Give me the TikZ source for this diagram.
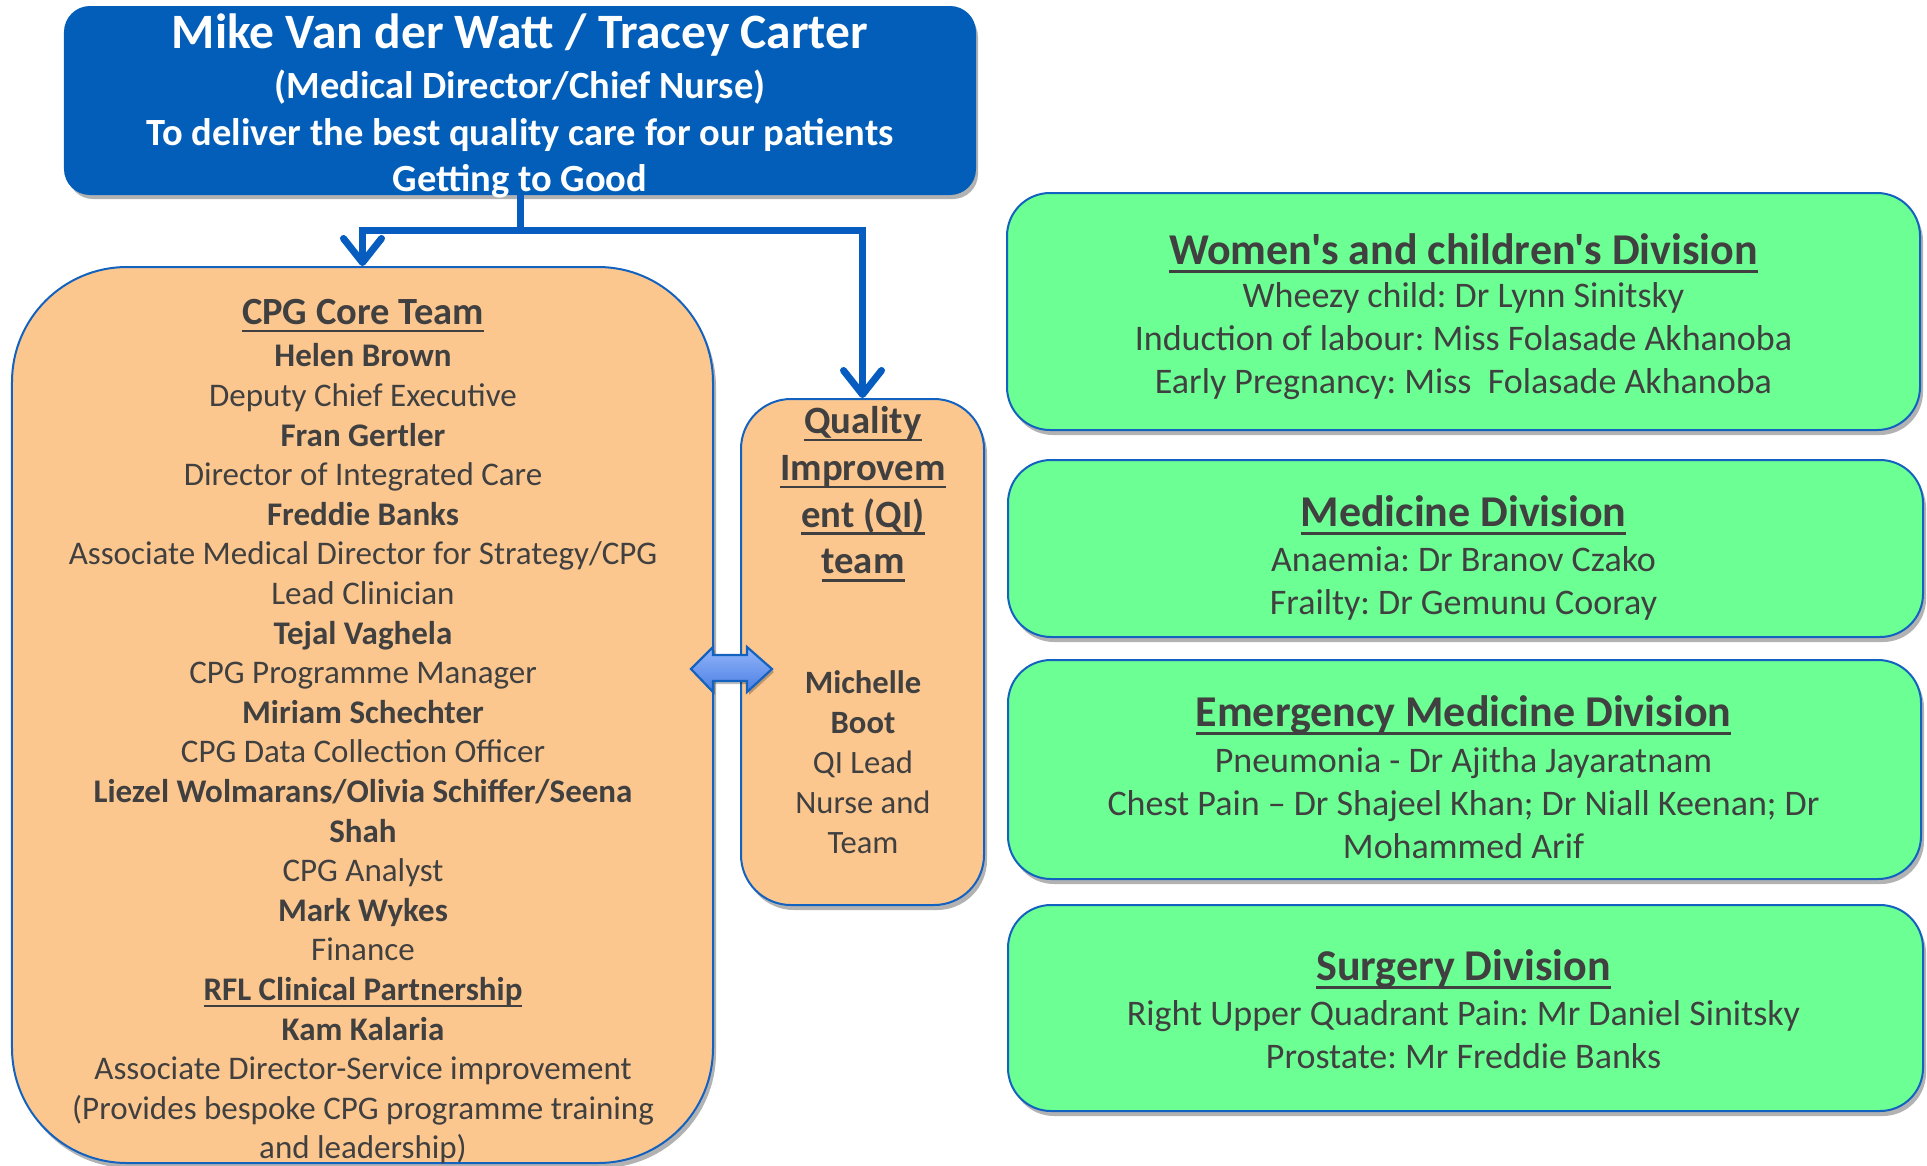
\documentclass[tikz,border=0pt]{standalone}
\usepackage{fontspec}
\setmainfont{Carlito}[Ligatures=TeXOff]
\frenchspacing
\newcommand{\ulx}[1]{\setbox0\hbox{#1}\leavevmode\rlap{\vrule width\wd0 height -0.14em depth 0.2em}\box0}
\usetikzlibrary{arrows.meta,shadows}
\definecolor{topblue}{HTML}{025EB8}
\definecolor{orangefill}{HTML}{FCC78F}
\definecolor{greenfill}{HTML}{6CFF93}
\definecolor{bordc}{HTML}{1462C0}
\definecolor{txt}{HTML}{404040}
\definecolor{connblue}{HTML}{065DBF}
\definecolor{arrowlight}{HTML}{93B5FA}
\definecolor{arrowdark}{HTML}{4A7EE2}
\tikzset{
  box/.style={draw=bordc, line width=2bp, rounded corners=#1, inner sep=0pt,
    drop shadow={shadow xshift=3bp, shadow yshift=-5bp, fill=black, opacity=0.3}},
  txtnode/.style={inner sep=0pt, align=center, text=txt},
  conn/.style={draw=connblue, line width=7bp,
    -{Straight Barb[length=24bp,width=38bp,round]}},
  dblarrow/.style={draw=bordc, line width=2.2bp, line join=miter,
    top color=arrowlight, bottom color=arrowdark,
    drop shadow={shadow xshift=2bp, shadow yshift=-3bp, fill=black, opacity=0.25}},
  divtitle/.style={txtnode, font=\fontsize{44bp}{48bp}\selectfont\bfseries},
  divbody/.style={txtnode, font=\fontsize{36bp}{43bp}\selectfont},
}
\begin{document}
\begin{tikzpicture}[x=1bp,y=-1bp]
\useasboundingbox (0,0) rectangle (1927,1165);
% boxes
\node[box=25bp, fill=topblue, draw=topblue, minimum width=910bp, minimum height=187bp] (top) at (520,100.5) {};
\node[box=115bp, fill=orangefill, minimum width=701bp, minimum height=896bp] (core) at (362.5,715) {};
\node[box=50bp, fill=orangefill, minimum width=243bp, minimum height=506bp] (qi) at (862.5,652) {};
\node[box=43bp, fill=greenfill, minimum width=913bp, minimum height=237bp] (wc) at (1463.5,311.5) {};
\node[box=43bp, fill=greenfill, minimum width=915bp, minimum height=177bp] (med) at (1465.5,548.5) {};
\node[box=43bp, fill=greenfill, minimum width=913bp, minimum height=219bp] (em) at (1464.5,769.5) {};
\node[box=43bp, fill=greenfill, minimum width=915bp, minimum height=206bp] (sur) at (1465.5,1008) {};
% top texts
\node[txtnode, text=white, font=\fontsize{49.5bp}{52bp}\selectfont\bfseries] (toptitle) at (520,35) {Mike Van der Watt / Tracey Carter};
\node[txtnode, text=white, font=\fontsize{38.5bp}{46.5bp}\selectfont\bfseries] (topsub) at (520,134) {(Medical Director/Chief Nurse)\\To deliver the best quality care for our patients\\Getting to Good};
% core team
\node[txtnode, font=\fontsize{38.5bp}{42bp}\selectfont\bfseries] (coretitle) at (363,316) {\ulx{CPG Core Team}};
\node[txtnode, font=\fontsize{33bp}{39.6bp}\selectfont] (corebody) at (363,754) {\textbf{Helen Brown}\\Deputy Chief Executive\\\textbf{Fran Gertler}\\Director of Integrated Care\\\textbf{Freddie Banks}\\Associate Medical Director for Strategy/CPG\\Lead Clinician\\\textbf{Tejal Vaghela}\\CPG Programme Manager\\\textbf{Miriam Schechter}\\CPG Data Collection Officer\\\textbf{Liezel Wolmarans/Olivia Schiffer/Seena}\\\textbf{Shah}\\CPG Analyst\\\textbf{Mark Wykes}\\Finance\\\textbf{\ulx{RFL Clinical Partnership}}\\\textbf{Kam Kalaria}\\Associate Director-Service improvement\\(Provides bespoke CPG programme training\\and leadership)};
% QI
\node[txtnode, font=\fontsize{38.7bp}{46.7bp}\selectfont\bfseries] (qititle) at (863,494) {\ulx{Quality}\\\ulx{Improvem}\\\ulx{ent (QI)}\\\ulx{team}};
\node[txtnode, font=\fontsize{32.6bp}{40bp}\selectfont] (qibody) at (863,762) {\textbf{Michelle}\\\textbf{Boot}\\QI Lead\\Nurse and\\Team};
% green boxes
\node[divtitle] (wctitle) at (1463.5,253) {\ulx{Women's and children's Division}};
\node[divbody] (wcbody) at (1463.5,341) {Wheezy child: Dr Lynn Sinitsky\\Induction of labour: Miss Folasade Akhanoba\\Early Pregnancy: Miss\ \ Folasade Akhanoba};
\node[divtitle] (medtitle) at (1463.5,515) {\ulx{Medicine Division}};
\node[divbody] (medbody) at (1463.5,583.5) {Anaemia: Dr Branov Czako\\Frailty: Dr Gemunu Cooray};
\node[divtitle] (emtitle) at (1463.5,715) {\ulx{Emergency Medicine Division}};
\node[divbody] (embody) at (1463.5,803) {Pneumonia - Dr Ajitha Jayaratnam\\Chest Pain – Dr Shajeel Khan; Dr Niall Keenan; Dr\\Mohammed Arif};
\node[divtitle] (surtitle) at (1463.5,969) {\ulx{Surgery Division}};
\node[divbody] (surbody) at (1463.5,1035) {Right Upper Quadrant Pain: Mr Daniel Sinitsky\\Prostate: Mr Freddie Banks};
% connectors
\coordinate (split) at (520,230);
\draw[conn] (top.south) -- (split) -| (core.north);
\draw[conn] (split) -| (qi.north);
% double arrow between core team and QI team
\draw[dblarrow] (691,669) -- (713,647) -- (713,655) -- (747,655) -- (747,647) -- (772,669) -- (747,692) -- (747,681) -- (713,681) -- (713,692) -- cycle;
\end{tikzpicture}
\end{document}
